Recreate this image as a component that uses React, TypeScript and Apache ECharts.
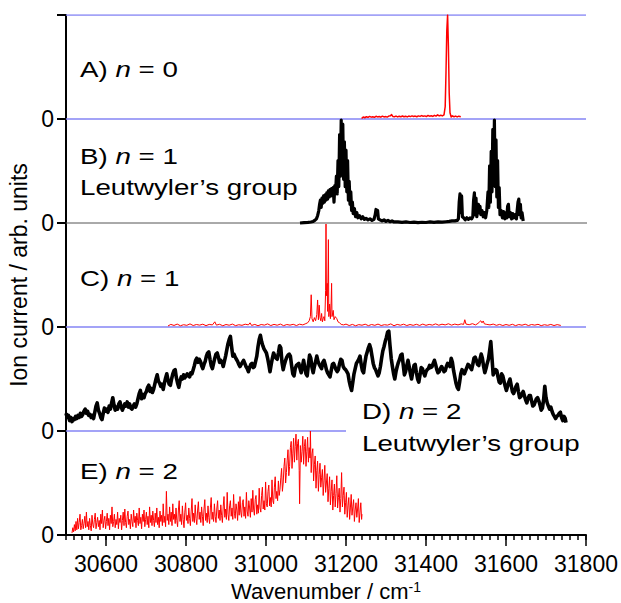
import React, { useEffect, useRef } from "react";
import * as echarts from "echarts";

// ---------- axis ticks ----------
const xLabelValues = [30600, 30800, 31000, 31200, 31400, 31600, 31800];

// ---------- panel offsets (baseline of each stacked trace) ----------
const offsetA = 4;
const offsetB = 3;
const offsetC = 2;
const offsetD = 1;
const offsetE = 0;

// ---------- reference lines: [level, fromWavenumber, toWavenumber] ----------
const blueLines = [
  [5, 30500, 31800],
  [4, 30500, 31800],
  [2, 30500, 31800],
  [1, 30500, 31200],
];
const grayLine = [3, 30500, 31815];

// ---------- spectra: [wavenumber, normalized intensity] ----------
const spectrumA = [
  [31239, 0.005], [31243, 0.02], [31247, 0.012], [31251, 0.022], [31255, 0.015], [31259, 0.025],
  [31263, 0.018], [31267, 0.022], [31271, 0.016], [31275, 0.026], [31279, 0.02], [31283, 0.024],
  [31287, 0.018], [31291, 0.027], [31295, 0.02], [31299, 0.023], [31303, 0.019], [31307, 0.028],
  [31311, 0.03], [31314, 0.042], [31317, 0.025], [31321, 0.022], [31325, 0.028], [31329, 0.02],
  [31333, 0.026], [31337, 0.021], [31341, 0.029], [31345, 0.022], [31349, 0.027], [31353, 0.02],
  [31357, 0.028], [31361, 0.023], [31365, 0.03], [31369, 0.024], [31373, 0.028], [31377, 0.022],
  [31381, 0.03], [31385, 0.025], [31389, 0.033], [31393, 0.026], [31397, 0.03], [31401, 0.024],
  [31405, 0.034], [31409, 0.027], [31413, 0.031], [31417, 0.025], [31421, 0.035], [31425, 0.028],
  [31429, 0.04], [31433, 0.03], [31437, 0.036], [31441, 0.03], [31445, 0.04], [31448, 0.12],
  [31450, 0.45], [31452, 0.85], [31454, 1.0], [31456, 0.7], [31458, 0.25], [31460, 0.06],
  [31463, 0.02], [31466, 0.03], [31470, 0.022], [31474, 0.028], [31478, 0.02], [31482, 0.027],
  [31487, 0.022],
];

const spectrumB = [
  [31085, 0.0], [31095, 0.003], [31105, 0.006], [31112, 0.01], [31118, 0.015], [31122, 0.025],
  [31126, 0.04], [31129, 0.07], [31132, 0.12], [31134, 0.18], [31136, 0.22], [31138, 0.15],
  [31140, 0.24], [31142, 0.19], [31144, 0.26], [31146, 0.2], [31148, 0.27], [31150, 0.22],
  [31152, 0.29], [31154, 0.23], [31156, 0.31], [31158, 0.25], [31160, 0.32], [31162, 0.26],
  [31164, 0.33], [31166, 0.27], [31168, 0.34], [31170, 0.2], [31172, 0.36], [31174, 0.3],
  [31176, 0.45], [31178, 0.28], [31180, 0.6], [31182, 0.35], [31184, 0.85], [31186, 0.45],
  [31188, 0.99], [31190, 0.5], [31192, 0.95], [31194, 0.42], [31196, 0.78], [31198, 0.35],
  [31200, 0.7], [31202, 0.3], [31204, 0.6], [31206, 0.22], [31208, 0.4], [31210, 0.18],
  [31212, 0.3], [31214, 0.12], [31216, 0.2], [31218, 0.09], [31221, 0.14], [31224, 0.06],
  [31227, 0.1], [31230, 0.05], [31234, 0.07], [31238, 0.04], [31242, 0.06], [31246, 0.035],
  [31250, 0.045], [31255, 0.03], [31260, 0.04], [31265, 0.025], [31270, 0.035], [31273, 0.08],
  [31275, 0.13], [31277, 0.1], [31279, 0.12], [31281, 0.04], [31285, 0.03], [31290, 0.02],
  [31295, 0.03], [31300, 0.015], [31305, 0.025], [31310, 0.012], [31315, 0.02], [31320, 0.01],
  [31330, 0.01], [31340, 0.006], [31350, 0.01], [31360, 0.005], [31370, 0.008], [31380, 0.004],
  [31390, 0.007], [31400, 0.005], [31410, 0.01], [31420, 0.006], [31430, 0.01], [31440, 0.008],
  [31450, 0.012], [31458, 0.015], [31465, 0.02], [31472, 0.02], [31478, 0.025], [31481, 0.04],
  [31483, 0.2], [31485, 0.28], [31487, 0.1], [31489, 0.26], [31491, 0.06], [31494, 0.05],
  [31498, 0.03], [31502, 0.05], [31506, 0.035], [31510, 0.05], [31514, 0.04], [31517, 0.06],
  [31519, 0.22], [31521, 0.29], [31523, 0.08], [31525, 0.24], [31527, 0.06], [31529, 0.12],
  [31531, 0.18], [31533, 0.1], [31535, 0.16], [31537, 0.08], [31540, 0.12], [31543, 0.06],
  [31546, 0.1], [31549, 0.05], [31552, 0.12], [31555, 0.3], [31557, 0.15], [31559, 0.55],
  [31561, 0.2], [31563, 0.69], [31565, 0.3], [31567, 0.9], [31569, 0.4], [31571, 0.99],
  [31573, 0.35], [31575, 0.8], [31577, 0.25], [31579, 0.6], [31581, 0.15], [31583, 0.34],
  [31585, 0.08], [31588, 0.12], [31591, 0.05], [31594, 0.11], [31597, 0.04], [31600, 0.1],
  [31602, 0.05], [31604, 0.16], [31606, 0.18], [31608, 0.06], [31611, 0.1], [31614, 0.04],
  [31617, 0.09], [31620, 0.05], [31623, 0.08], [31626, 0.04], [31628, 0.12], [31630, 0.2],
  [31632, 0.23], [31634, 0.08], [31636, 0.18], [31638, 0.05], [31640, 0.1], [31643, 0.02],
];

const spectrumC = [
  [30755, 0.01], [30762, 0.025], [30770, 0.015], [30778, 0.028], [30786, 0.012], [30794, 0.022],
  [30802, 0.016], [30810, 0.03], [30818, 0.014], [30826, 0.024], [30834, 0.018], [30842, 0.027],
  [30850, 0.013], [30858, 0.025], [30866, 0.02], [30872, 0.05], [30876, 0.018], [30884, 0.026],
  [30892, 0.012], [30900, 0.024], [30908, 0.017], [30916, 0.028], [30924, 0.013], [30932, 0.022],
  [30940, 0.016], [30948, 0.027], [30956, 0.02], [30960, 0.04], [30964, 0.015], [30972, 0.025],
  [30980, 0.012], [30988, 0.024], [30996, 0.018], [31004, 0.03], [31012, 0.014], [31020, 0.025],
  [31028, 0.017], [31036, 0.028], [31044, 0.013], [31052, 0.024], [31060, 0.018], [31068, 0.026],
  [31076, 0.014], [31084, 0.027], [31092, 0.02], [31098, 0.03], [31104, 0.04], [31108, 0.06],
  [31111, 0.1], [31113, 0.31], [31115, 0.08], [31118, 0.05], [31121, 0.09], [31124, 0.06],
  [31127, 0.12], [31129, 0.26], [31131, 0.07], [31133, 0.21], [31135, 0.09], [31137, 0.06],
  [31139, 0.13], [31141, 0.05], [31143, 0.08], [31145, 0.1], [31147, 0.06], [31149, 0.35],
  [31150, 0.99], [31151, 0.3], [31153, 0.42], [31154, 0.15], [31156, 0.84], [31157, 0.1],
  [31159, 0.22], [31161, 0.08], [31163, 0.25], [31164, 0.42], [31165, 0.1], [31168, 0.16],
  [31170, 0.07], [31173, 0.1], [31177, 0.08], [31180, 0.05], [31184, 0.04], [31188, 0.025],
  [31194, 0.02], [31200, 0.028], [31208, 0.014], [31216, 0.025], [31224, 0.012], [31232, 0.023],
  [31240, 0.017], [31248, 0.027], [31256, 0.013], [31264, 0.024], [31272, 0.016], [31280, 0.028],
  [31288, 0.014], [31296, 0.022], [31304, 0.018], [31312, 0.03], [31320, 0.012], [31328, 0.025],
  [31336, 0.017], [31344, 0.027], [31352, 0.014], [31360, 0.024], [31368, 0.016], [31376, 0.026],
  [31384, 0.015], [31392, 0.028], [31400, 0.016], [31408, 0.025], [31416, 0.018], [31424, 0.03],
  [31432, 0.017], [31440, 0.027], [31448, 0.02], [31456, 0.031], [31464, 0.018], [31472, 0.028],
  [31480, 0.02], [31488, 0.03], [31494, 0.025], [31497, 0.07], [31500, 0.028], [31508, 0.022],
  [31516, 0.032], [31524, 0.02], [31530, 0.035], [31534, 0.05], [31537, 0.06], [31540, 0.04],
  [31543, 0.058], [31546, 0.03], [31552, 0.025], [31560, 0.02], [31568, 0.028], [31576, 0.016],
  [31584, 0.025], [31592, 0.014], [31600, 0.024], [31608, 0.016], [31616, 0.026], [31624, 0.013],
  [31632, 0.024], [31640, 0.017], [31648, 0.027], [31656, 0.014], [31664, 0.024], [31672, 0.018],
  [31680, 0.026], [31688, 0.013], [31696, 0.022], [31704, 0.016], [31712, 0.025], [31720, 0.014],
  [31728, 0.023], [31737, 0.015],
];

const spectrumD = [
  [30500, 0.17], [30503, 0.13], [30506, 0.15], [30509, 0.1], [30512, 0.13], [30515, 0.09],
  [30518, 0.12], [30521, 0.11], [30524, 0.14], [30527, 0.12], [30530, 0.15], [30533, 0.13],
  [30536, 0.17], [30539, 0.14], [30542, 0.16], [30545, 0.19], [30548, 0.21], [30551, 0.17],
  [30554, 0.19], [30557, 0.15], [30560, 0.16], [30563, 0.13], [30566, 0.15], [30569, 0.12],
  [30572, 0.18], [30575, 0.24], [30578, 0.27], [30581, 0.2], [30584, 0.17], [30587, 0.13],
  [30590, 0.11], [30593, 0.17], [30596, 0.22], [30599, 0.19], [30602, 0.21], [30605, 0.18],
  [30608, 0.24], [30611, 0.21], [30614, 0.27], [30617, 0.32], [30620, 0.25], [30623, 0.2],
  [30626, 0.23], [30629, 0.21], [30632, 0.26], [30635, 0.28], [30638, 0.23], [30641, 0.2],
  [30644, 0.23], [30647, 0.26], [30650, 0.24], [30653, 0.28], [30656, 0.23], [30659, 0.26],
  [30662, 0.22], [30665, 0.21], [30668, 0.24], [30671, 0.26], [30674, 0.23], [30677, 0.26],
  [30680, 0.31], [30683, 0.36], [30686, 0.39], [30689, 0.31], [30692, 0.35], [30695, 0.32],
  [30698, 0.36], [30701, 0.38], [30704, 0.42], [30707, 0.44], [30710, 0.38], [30713, 0.41],
  [30716, 0.37], [30719, 0.4], [30722, 0.45], [30725, 0.5], [30728, 0.54], [30731, 0.48],
  [30734, 0.46], [30737, 0.43], [30740, 0.45], [30743, 0.4], [30746, 0.46], [30749, 0.51],
  [30752, 0.55], [30755, 0.49], [30758, 0.45], [30761, 0.44], [30764, 0.5], [30767, 0.55],
  [30770, 0.58], [30773, 0.59], [30776, 0.51], [30779, 0.46], [30782, 0.42], [30785, 0.48],
  [30788, 0.52], [30791, 0.5], [30794, 0.54], [30797, 0.51], [30800, 0.53], [30803, 0.55],
  [30806, 0.53], [30809, 0.52], [30812, 0.56], [30815, 0.55], [30818, 0.59], [30821, 0.63],
  [30824, 0.68], [30827, 0.7], [30830, 0.66], [30833, 0.69], [30836, 0.67], [30839, 0.63],
  [30842, 0.6], [30845, 0.64], [30848, 0.67], [30851, 0.72], [30854, 0.75], [30857, 0.76],
  [30860, 0.69], [30863, 0.63], [30866, 0.6], [30869, 0.65], [30872, 0.7], [30875, 0.74],
  [30878, 0.75], [30881, 0.71], [30884, 0.66], [30887, 0.68], [30890, 0.66], [30893, 0.62],
  [30896, 0.67], [30899, 0.72], [30902, 0.78], [30905, 0.84], [30908, 0.88], [30911, 0.91],
  [30914, 0.81], [30917, 0.72], [30920, 0.74], [30923, 0.71], [30926, 0.69], [30929, 0.67],
  [30932, 0.64], [30935, 0.62], [30938, 0.64], [30941, 0.66], [30944, 0.68], [30947, 0.65],
  [30950, 0.62], [30953, 0.6], [30956, 0.57], [30959, 0.61], [30962, 0.64], [30965, 0.65],
  [30968, 0.61], [30971, 0.62], [30974, 0.67], [30977, 0.72], [30980, 0.81], [30983, 0.88],
  [30986, 0.92], [30989, 0.86], [30992, 0.82], [30995, 0.79], [30998, 0.77], [31001, 0.75],
  [31004, 0.7], [31007, 0.64], [31010, 0.57], [31013, 0.64], [31016, 0.7], [31019, 0.75],
  [31022, 0.72], [31025, 0.7], [31028, 0.69], [31031, 0.75], [31034, 0.82], [31037, 0.8],
  [31040, 0.66], [31043, 0.59], [31046, 0.64], [31049, 0.68], [31052, 0.71], [31055, 0.73],
  [31058, 0.74], [31061, 0.72], [31064, 0.63], [31067, 0.55], [31070, 0.53], [31073, 0.6],
  [31076, 0.63], [31079, 0.64], [31082, 0.65], [31085, 0.6], [31088, 0.56], [31091, 0.62],
  [31094, 0.68], [31097, 0.61], [31100, 0.55], [31103, 0.53], [31106, 0.64], [31109, 0.73],
  [31112, 0.7], [31115, 0.61], [31118, 0.56], [31121, 0.62], [31124, 0.67], [31127, 0.72],
  [31130, 0.67], [31133, 0.64], [31136, 0.62], [31139, 0.6], [31142, 0.66], [31145, 0.68],
  [31148, 0.64], [31151, 0.59], [31154, 0.56], [31157, 0.54], [31160, 0.52], [31163, 0.58],
  [31166, 0.64], [31169, 0.65], [31172, 0.62], [31175, 0.59], [31178, 0.57], [31181, 0.59],
  [31184, 0.65], [31187, 0.69], [31190, 0.68], [31193, 0.62], [31196, 0.6], [31199, 0.59],
  [31202, 0.57], [31205, 0.55], [31208, 0.48], [31211, 0.43], [31214, 0.39], [31217, 0.47],
  [31220, 0.55], [31223, 0.6], [31226, 0.65], [31229, 0.67], [31232, 0.69], [31235, 0.72],
  [31238, 0.64], [31241, 0.58], [31244, 0.56], [31247, 0.65], [31250, 0.72], [31253, 0.76],
  [31256, 0.8], [31259, 0.83], [31262, 0.79], [31265, 0.72], [31268, 0.65], [31271, 0.61],
  [31274, 0.59], [31277, 0.56], [31280, 0.53], [31283, 0.56], [31286, 0.62], [31289, 0.7],
  [31292, 0.77], [31295, 0.81], [31298, 0.86], [31301, 0.9], [31304, 0.95], [31307, 0.96],
  [31310, 0.82], [31313, 0.7], [31316, 0.62], [31319, 0.55], [31322, 0.5], [31325, 0.57],
  [31328, 0.62], [31331, 0.66], [31334, 0.69], [31337, 0.73], [31340, 0.74], [31343, 0.64],
  [31346, 0.54], [31349, 0.57], [31352, 0.63], [31355, 0.68], [31358, 0.62], [31361, 0.55],
  [31364, 0.5], [31367, 0.57], [31370, 0.63], [31373, 0.64], [31376, 0.56], [31379, 0.5],
  [31382, 0.47], [31385, 0.54], [31388, 0.61], [31391, 0.6], [31394, 0.56], [31397, 0.53],
  [31400, 0.57], [31403, 0.59], [31406, 0.6], [31409, 0.63], [31412, 0.61], [31415, 0.62],
  [31418, 0.65], [31421, 0.68], [31424, 0.64], [31427, 0.59], [31430, 0.56], [31433, 0.57],
  [31436, 0.6], [31439, 0.62], [31442, 0.6], [31445, 0.57], [31448, 0.58], [31451, 0.62],
  [31454, 0.65], [31457, 0.64], [31460, 0.62], [31463, 0.7], [31466, 0.66], [31469, 0.58],
  [31472, 0.52], [31475, 0.46], [31478, 0.42], [31481, 0.4], [31484, 0.47], [31487, 0.55],
  [31490, 0.59], [31493, 0.57], [31496, 0.55], [31499, 0.58], [31502, 0.61], [31505, 0.64],
  [31508, 0.63], [31511, 0.61], [31514, 0.59], [31517, 0.64], [31520, 0.7], [31523, 0.71],
  [31526, 0.68], [31529, 0.64], [31532, 0.63], [31535, 0.69], [31538, 0.74], [31541, 0.7],
  [31544, 0.62], [31547, 0.56], [31550, 0.6], [31553, 0.65], [31556, 0.69], [31559, 0.77],
  [31562, 0.86], [31565, 0.7], [31568, 0.54], [31571, 0.57], [31574, 0.59], [31577, 0.58],
  [31580, 0.52], [31583, 0.47], [31586, 0.46], [31589, 0.55], [31592, 0.53], [31595, 0.48],
  [31598, 0.43], [31601, 0.39], [31604, 0.43], [31607, 0.47], [31610, 0.5], [31613, 0.44],
  [31616, 0.38], [31619, 0.36], [31622, 0.39], [31625, 0.43], [31628, 0.45], [31631, 0.38],
  [31634, 0.32], [31637, 0.33], [31640, 0.36], [31643, 0.38], [31646, 0.34], [31649, 0.3],
  [31652, 0.27], [31655, 0.31], [31658, 0.34], [31661, 0.34], [31664, 0.29], [31667, 0.24],
  [31670, 0.25], [31673, 0.28], [31676, 0.31], [31679, 0.32], [31682, 0.29], [31685, 0.25],
  [31688, 0.2], [31691, 0.22], [31694, 0.3], [31697, 0.43], [31700, 0.32], [31703, 0.27],
  [31706, 0.24], [31709, 0.21], [31712, 0.23], [31715, 0.19], [31718, 0.16], [31721, 0.14],
  [31724, 0.12], [31727, 0.14], [31730, 0.15], [31733, 0.17], [31736, 0.18], [31739, 0.13],
  [31742, 0.1], [31745, 0.14], [31748, 0.12], [31750, 0.08],
];

const spectrumE = [
  [30515, 0.02], [30517, 0.07], [30519, 0.03], [30521, 0.1], [30523, 0.04], [30525, 0.13],
  [30527, 0.05], [30529, 0.16], [30531, 0.06], [30533, 0.12], [30535, 0.2], [30537, 0.05],
  [30539, 0.09], [30541, 0.15], [30543, 0.06], [30545, 0.11], [30547, 0.18], [30549, 0.07],
  [30551, 0.22], [30553, 0.08], [30555, 0.13], [30557, 0.05], [30559, 0.16], [30561, 0.09],
  [30563, 0.04], [30565, 0.19], [30567, 0.1], [30569, 0.07], [30571, 0.15], [30573, 0.21],
  [30575, 0.06], [30577, 0.12], [30579, 0.17], [30581, 0.08], [30583, 0.14], [30585, 0.05],
  [30587, 0.2], [30589, 0.11], [30591, 0.24], [30593, 0.07], [30595, 0.14], [30597, 0.18],
  [30599, 0.06], [30601, 0.13], [30603, 0.21], [30605, 0.09], [30607, 0.16], [30609, 0.05],
  [30611, 0.19], [30613, 0.11], [30615, 0.27], [30617, 0.08], [30619, 0.13], [30621, 0.2],
  [30623, 0.07], [30625, 0.15], [30627, 0.1], [30629, 0.22], [30631, 0.06], [30633, 0.16],
  [30635, 0.12], [30637, 0.19], [30639, 0.05], [30641, 0.14], [30643, 0.22], [30645, 0.09],
  [30647, 0.25], [30649, 0.12], [30651, 0.07], [30653, 0.18], [30655, 0.23], [30657, 0.1],
  [30659, 0.15], [30661, 0.06], [30663, 0.2], [30665, 0.13], [30667, 0.08], [30669, 0.24],
  [30671, 0.12], [30673, 0.18], [30675, 0.07], [30677, 0.21], [30679, 0.14], [30681, 0.09],
  [30683, 0.26], [30685, 0.11], [30687, 0.17], [30689, 0.06], [30691, 0.2], [30693, 0.13],
  [30695, 0.24], [30697, 0.08], [30699, 0.15], [30701, 0.22], [30703, 0.1], [30705, 0.18],
  [30707, 0.07], [30709, 0.27], [30711, 0.12], [30713, 0.19], [30715, 0.09], [30717, 0.23],
  [30719, 0.14], [30721, 0.08], [30723, 0.21], [30725, 0.12], [30727, 0.26], [30729, 0.1],
  [30731, 0.17], [30733, 0.07], [30735, 0.23], [30737, 0.13], [30739, 0.19], [30741, 0.09],
  [30743, 0.3], [30745, 0.12], [30747, 0.18], [30749, 0.08], [30751, 0.42], [30753, 0.14],
  [30755, 0.2], [30757, 0.1], [30759, 0.27], [30761, 0.13], [30763, 0.22], [30765, 0.09],
  [30767, 0.3], [30769, 0.15], [30771, 0.2], [30773, 0.11], [30775, 0.26], [30777, 0.14],
  [30779, 0.08], [30781, 0.24], [30783, 0.33], [30785, 0.13], [30787, 0.2], [30789, 0.1],
  [30791, 0.28], [30793, 0.15], [30795, 0.07], [30797, 0.22], [30799, 0.31], [30801, 0.14],
  [30803, 0.19], [30805, 0.11], [30807, 0.26], [30809, 0.16], [30811, 0.09], [30813, 0.23],
  [30815, 0.35], [30817, 0.13], [30819, 0.21], [30821, 0.12], [30823, 0.29], [30825, 0.16],
  [30827, 0.1], [30829, 0.24], [30831, 0.32], [30833, 0.15], [30835, 0.22], [30837, 0.12],
  [30839, 0.27], [30841, 0.18], [30843, 0.09], [30845, 0.25], [30847, 0.34], [30849, 0.14],
  [30851, 0.21], [30853, 0.12], [30855, 0.28], [30857, 0.17], [30859, 0.11], [30861, 0.26],
  [30863, 0.36], [30865, 0.15], [30867, 0.22], [30869, 0.13], [30871, 0.3], [30873, 0.18],
  [30875, 0.12], [30877, 0.25], [30879, 0.33], [30881, 0.16], [30883, 0.24], [30885, 0.14],
  [30887, 0.29], [30889, 0.19], [30891, 0.12], [30893, 0.27], [30895, 0.37], [30897, 0.17],
  [30899, 0.25], [30901, 0.15], [30903, 0.41], [30905, 0.2], [30907, 0.14], [30909, 0.28],
  [30911, 0.33], [30913, 0.18], [30915, 0.26], [30917, 0.15], [30919, 0.39], [30921, 0.21],
  [30923, 0.16], [30925, 0.3], [30927, 0.24], [30929, 0.14], [30931, 0.32], [30933, 0.19],
  [30935, 0.37], [30937, 0.22], [30939, 0.17], [30941, 0.31], [30943, 0.34], [30945, 0.18],
  [30947, 0.27], [30949, 0.16], [30951, 0.41], [30953, 0.23], [30955, 0.18], [30957, 0.33],
  [30959, 0.26], [30961, 0.17], [30963, 0.35], [30965, 0.22], [30967, 0.43], [30969, 0.25],
  [30971, 0.19], [30973, 0.34], [30975, 0.38], [30977, 0.2], [30979, 0.29], [30981, 0.21],
  [30983, 0.45], [30985, 0.26], [30987, 0.22], [30989, 0.38], [30991, 0.46], [30993, 0.25],
  [30995, 0.33], [30997, 0.24], [30999, 0.51], [31001, 0.3], [31003, 0.27], [31005, 0.42],
  [31007, 0.48], [31009, 0.28], [31011, 0.36], [31013, 0.27], [31015, 0.53], [31017, 0.33],
  [31019, 0.3], [31021, 0.46], [31023, 0.56], [31025, 0.35], [31027, 0.42], [31029, 0.33],
  [31031, 0.52], [31033, 0.38], [31035, 0.44], [31037, 0.55], [31039, 0.64], [31041, 0.42],
  [31043, 0.5], [31045, 0.66], [31047, 0.74], [31049, 0.5], [31051, 0.6], [31053, 0.72],
  [31055, 0.82], [31057, 0.57], [31059, 0.66], [31061, 0.84], [31063, 0.9], [31065, 0.64],
  [31067, 0.78], [31069, 0.93], [31071, 0.7], [31073, 0.85], [31075, 0.97], [31077, 0.72],
  [31079, 0.88], [31081, 0.92], [31083, 0.62], [31084, 0.3], [31086, 0.86], [31088, 0.7],
  [31090, 0.8], [31092, 0.95], [31094, 0.68], [31096, 0.85], [31098, 0.92], [31100, 0.66],
  [31102, 0.8], [31104, 0.94], [31106, 0.7], [31108, 0.84], [31110, 0.74], [31111, 1.0],
  [31113, 0.6], [31115, 0.78], [31117, 0.83], [31119, 0.52], [31121, 0.68], [31123, 0.76],
  [31125, 0.45], [31127, 0.62], [31129, 0.71], [31131, 0.42], [31133, 0.58], [31135, 0.69],
  [31137, 0.46], [31139, 0.55], [31141, 0.63], [31143, 0.38], [31145, 0.52], [31147, 0.67],
  [31149, 0.41], [31151, 0.5], [31153, 0.59], [31155, 0.32], [31157, 0.45], [31159, 0.56],
  [31161, 0.29], [31163, 0.42], [31165, 0.53], [31167, 0.24], [31169, 0.38], [31171, 0.49],
  [31173, 0.27], [31175, 0.4], [31177, 0.57], [31179, 0.26], [31181, 0.36], [31183, 0.45],
  [31185, 0.22], [31187, 0.35], [31189, 0.6], [31191, 0.27], [31193, 0.38], [31195, 0.46],
  [31197, 0.2], [31199, 0.31], [31201, 0.41], [31203, 0.17], [31205, 0.28], [31207, 0.36],
  [31209, 0.15], [31211, 0.26], [31213, 0.39], [31215, 0.19], [31217, 0.27], [31219, 0.34],
  [31221, 0.13], [31223, 0.24], [31225, 0.31], [31227, 0.17], [31229, 0.25], [31231, 0.35],
  [31233, 0.12], [31235, 0.22], [31237, 0.31], [31239, 0.15], [31240, 0.2],
];

const FONT = "'Liberation Sans', Arial, Helvetica, sans-serif";
const BLUE = "#8585f5";
const RED = "#ff0000";

function shift(arr: number[][], off: number) {
  return arr.map(([x, y]) => [x, y + off]);
}

function traceSeries(name: string, data: number[][], color: string, width: number) {
  return {
    name,
    type: "line",
    data,
    showSymbol: false,
    symbol: "none",
    silent: true,
    lineStyle: { color, width, join: "round" },
    z: 3,
  };
}

function refSeries(line: number[], color: string, width: number, clip = true) {
  const [level, from, to] = line;
  return {
    type: "line",
    data: [
      [from, level],
      [to, level],
    ],
    showSymbol: false,
    symbol: "none",
    silent: true,
    clip,
    lineStyle: { color, width },
    z: 2,
  };
}

function label(x: number, y: number, text: string) {
  return {
    type: "text",
    x,
    y,
    scaleX: 1.26,
    silent: true,
    style: {
      text,
      fill: "#000",
      verticalAlign: "middle",
      align: "left",
      font: `22px ${FONT}`,
      rich: {
        r: { fontSize: 22, fontFamily: FONT, fill: "#000", color: "#000" },
        i: { fontSize: 22, fontFamily: FONT, fontStyle: "italic", fill: "#000", color: "#000" },
      },
    },
  };
}

export default function App() {
  const ref = useRef<HTMLDivElement>(null);

  useEffect(() => {
    if (!ref.current) return;
    const chart = echarts.init(ref.current, undefined, { renderer: "svg" });

    const option: any = {
      animation: false,
      backgroundColor: "#ffffff",
      textStyle: { fontFamily: FONT },
      grid: { left: 66, right: 35, top: 15, bottom: 68, containLabel: false, outerBoundsMode: "none" },
      xAxis: [
        {
          type: "value",
          min: 30500,
          max: 31800,
          interval: 20,
          axisLine: { show: true, onZero: false, lineStyle: { color: "#000", width: 2 } },
          axisTick: { show: true, length: 5, lineStyle: { color: "#000", width: 1.5 } },
          axisLabel: { show: false },
          splitLine: { show: false },
        },
        {
          type: "value",
          position: "bottom",
          min: 30500,
          max: 31800,
          axisLine: { show: false, onZero: false },
          axisTick: {
            show: true,
            length: 11,
            customValues: xLabelValues,
            lineStyle: { color: "#000", width: 1.5 },
          },
          axisLabel: {
            show: true,
            customValues: xLabelValues,
            fontSize: 23,
            color: "#000",
            fontFamily: FONT,
            margin: 17,
            formatter: (v: number) => String(v),
          },
          splitLine: { show: false },
          name: "Wavenumber / cm{sup|-1}",
          nameLocation: "middle",
          nameGap: 43,
          nameTextStyle: {
            fontSize: 22,
            color: "#000",
            fontFamily: FONT,
            rich: {
              sup: { fontSize: 14, color: "#000", fontFamily: FONT, verticalAlign: "top", padding: [0, 0, 10, 0] },
            },
          },
        },
      ],
      yAxis: {
        type: "value",
        min: 0,
        max: 5,
        interval: 1,
        axisLine: { show: true, onZero: false, lineStyle: { color: "#000", width: 2 } },
        axisTick: { show: true, length: 9, lineStyle: { color: "#000", width: 2 } },
        axisLabel: {
          fontSize: 23,
          color: "#000",
          fontFamily: FONT,
          margin: 12,
          formatter: (v: number) => (v < 5 ? "0" : ""),
        },
        splitLine: { show: false },
        name: "Ion current / arb. units",
        nameLocation: "middle",
        nameGap: 25,
        nameTextStyle: { fontSize: 23, color: "#000", fontFamily: FONT },
      },
      series: [
        ...blueLines.map((l) => refSeries(l, BLUE, 1.5)),
        refSeries(grayLine, "#555555", 1, false),
        traceSeries("A", shift(spectrumA, offsetA), RED, 1.5),
        traceSeries("B", shift(spectrumB, offsetB), "#000000", 3.2),
        traceSeries("C", shift(spectrumC, offsetC), RED, 1),
        traceSeries("D", shift(spectrumD, offsetD), "#000000", 3.6),
        traceSeries("E", shift(spectrumE, offsetE), RED, 1),
      ],
      graphic: [
        label(80, 69, "{r|A) }{i|n}{r| = 0}"),
        label(80, 156, "{r|B) }{i|n}{r| = 1}"),
        label(80, 187, "{r|Leutwyler\u2019s group}"),
        label(80, 278, "{r|C) }{i|n}{r| = 1}"),
        label(362, 411, "{r|D) }{i|n}{r| = 2}"),
        label(362, 443, "{r|Leutwyler\u2019s group}"),
        label(80, 471, "{r|E) }{i|n}{r| = 2}"),
      ],
    };

    chart.setOption(option);
    return () => {
      chart.dispose();
    };
  }, []);

  return (
    <div
      ref={ref}
      style={{ position: "absolute", left: 0, top: 0, width: 621, height: 603, background: "#fff" }}
    />
  );
}
